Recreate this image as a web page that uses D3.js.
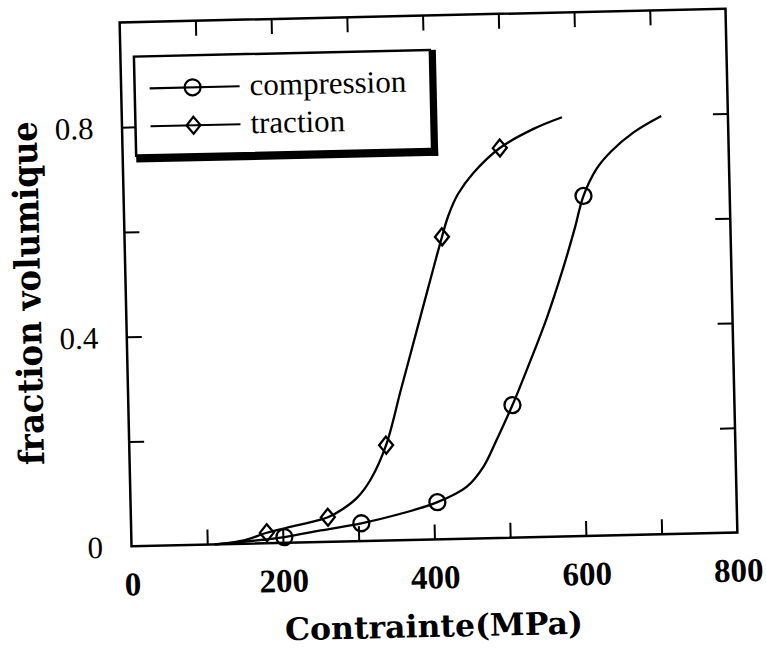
<!DOCTYPE html>
<html>
<head>
<meta charset="utf-8">
<script src="https://cdn.jsdelivr.net/npm/d3@7"></script>
<style>
  html, body { margin: 0; padding: 0; background: #fff; }
  svg { display: block; }
</style>
</head>
<body>
<svg id="chart" width="766" height="654"></svg>
<script>
// ---- data ----
const xTickValues = [100, 200, 300, 400, 500, 600, 700];
const xTickLabels = [0, 200, 400, 600, 800];
const yTickValues = [0.2, 0.4, 0.6, 0.8];
const yTickLabels = [0, 0.4, 0.8];

const compMarkX = [202, 304, 405, 507, 607];
const compMarkY = [0.011, 0.034, 0.071, 0.253, 0.649];
const tracMarkX = [179, 260, 339, 419, 498];
const tracMarkY = [0.020, 0.047, 0.182, 0.577, 0.744];

const compCurveX = [110, 150, 202, 250, 304, 355, 405, 444, 467, 485, 507, 530, 555, 578, 594, 607, 625, 645, 675, 712];
const compCurveY = [0, 0.004, 0.011, 0.022, 0.034, 0.050, 0.071, 0.099, 0.137, 0.187, 0.253, 0.330, 0.418, 0.512, 0.585, 0.649, 0.700, 0.733, 0.768, 0.798];
const tracCurveX = [110, 150, 179, 220, 260, 280, 300, 318, 339, 360, 380, 400, 419, 428, 441, 462, 498, 543, 581];
const tracCurveY = [0, 0.007, 0.020, 0.033, 0.047, 0.062, 0.084, 0.118, 0.182, 0.286, 0.385, 0.484, 0.577, 0.617, 0.657, 0.697, 0.744, 0.779, 0.800];

const seriesNames = ["compression", "traction"];
const xTitle = "Contrainte(MPa)";
const yTitle = "fraction  volumique";

// ---- drawing ----
const svg = d3.select("#chart");
svg.append("rect").attr("width", 766).attr("height", 654).attr("fill", "#fff");

const g = svg.append("g").attr("transform", "rotate(-1.3, 428.5, 277.5)");

const x = d3.scaleLinear().domain([0, 800]).range([125.5, 731.5]);
const y = d3.scaleLinear().domain([0, 1]).range([539.5, 15.5]);
const [x0, x1] = x.range();
const [y0, y1] = y.range();

const serif = "'Liberation Serif', 'Times New Roman', serif";
const titleFont = "'DejaVu Serif', serif";

// inward ticks on all four sides
const tickLen = 15;
function tickAxis(axis, transform) {
  const a = g.append("g").attr("transform", transform).call(axis);
  a.select(".domain").remove();
  a.selectAll(".tick line").attr("stroke", "#000").attr("stroke-width", 2);
  a.selectAll("text").remove();
  return a;
}
tickAxis(d3.axisBottom(x).tickValues(xTickValues).tickSize(-tickLen), `translate(0,${y0})`);
tickAxis(d3.axisTop(x).tickValues(xTickValues).tickSize(-tickLen), `translate(0,${y1})`);
tickAxis(d3.axisLeft(y).tickValues(yTickValues).tickSize(-tickLen), `translate(${x0},0)`);
tickAxis(d3.axisRight(y).tickValues(yTickValues).tickSize(-tickLen), `translate(${x1},0)`);

// frame
g.append("rect")
  .attr("x", x0).attr("y", y1)
  .attr("width", x1 - x0).attr("height", y0 - y1)
  .attr("fill", "none").attr("stroke", "#000").attr("stroke-width", 2.5);

// tick labels
const xl = g.append("g").attr("transform", `translate(0,${y0})`)
  .call(d3.axisBottom(x).tickValues(xTickLabels).tickSize(0).tickFormat(d3.format("d")));
xl.select(".domain").remove();
xl.selectAll("text")
  .attr("y", 49).attr("dy", null)
  .attr("font-family", serif).attr("font-size", 33).attr("font-weight", "bold").attr("fill", "#000");

const yl = g.append("g").attr("transform", `translate(${x0},0)`)
  .call(d3.axisLeft(y).tickValues(yTickLabels).tickSize(0).tickFormat(d => d === 0 ? "0" : d3.format(".1f")(d)));
yl.select(".domain").remove();
yl.selectAll("text")
  .attr("x", -28.5).attr("dy", "0.34em")
  .attr("font-family", serif).attr("font-size", 31).attr("fill", "#000");

// axis titles
g.append("text")
  .attr("x", 426).attr("y", 637)
  .attr("text-anchor", "middle")
  .attr("font-family", titleFont).attr("font-weight", "bold").attr("font-size", 31)
  .attr("textLength", 298).attr("lengthAdjust", "spacingAndGlyphs")
  .text(xTitle);

g.append("text")
  .attr("transform", "translate(40,284) rotate(-90)")
  .attr("text-anchor", "middle")
  .attr("font-family", titleFont).attr("font-weight", "bold").attr("font-size", 35)
  .attr("textLength", 344).attr("lengthAdjust", "spacingAndGlyphs")
  .text(yTitle);

// curves
const line = d3.line().x(d => x(d[0])).y(d => y(d[1])).curve(d3.curveCatmullRom.alpha(0.5));
const compCurve = compCurveX.map((v, i) => [v, compCurveY[i]]);
const tracCurve = tracCurveX.map((v, i) => [v, tracCurveY[i]]);
g.append("path").datum(compCurve).attr("d", line)
  .attr("fill", "none").attr("stroke", "#000").attr("stroke-width", 2.3);
g.append("path").datum(tracCurve).attr("d", line)
  .attr("fill", "none").attr("stroke", "#000").attr("stroke-width", 2.3);

// markers
const circleSym = d3.symbol().type(d3.symbolCircle).size(Math.PI * 8 * 8);
const diamondPath = "M0,-8.5L7,0L0,8.5L-7,0Z";

g.selectAll("path.comp").data(compMarkX.map((v, i) => [v, compMarkY[i]])).join("path")
  .attr("class", "comp")
  .attr("transform", d => `translate(${x(d[0])},${y(d[1])})`)
  .attr("d", circleSym())
  .attr("fill", "none").attr("stroke", "#000").attr("stroke-width", 2.3);

g.selectAll("path.trac").data(tracMarkX.map((v, i) => [v, tracMarkY[i]])).join("path")
  .attr("class", "trac")
  .attr("transform", d => `translate(${x(d[0])},${y(d[1])})`)
  .attr("d", diamondPath)
  .attr("fill", "none").attr("stroke", "#000").attr("stroke-width", 2.3);

// legend
const lg = g.append("g");
const lb = { x: 139, y: 50, w: 296, h: 99 };
lg.append("rect").attr("x", lb.x).attr("y", lb.y).attr("width", lb.w).attr("height", lb.h)
  .attr("fill", "#fff").attr("stroke", "#000").attr("stroke-width", 2.5);
// drop shadow on right and bottom
lg.append("rect").attr("x", lb.x + lb.w).attr("y", lb.y).attr("width", 6).attr("height", lb.h + 7).attr("fill", "#000");
lg.append("rect").attr("x", lb.x).attr("y", lb.y + lb.h).attr("width", lb.w + 6).attr("height", 7).attr("fill", "#000");

const legendRows = [
  { name: seriesNames[0], yy: 82, marker: circleSym() },
  { name: seriesNames[1], yy: 120, marker: diamondPath }
];
legendRows.forEach(r => {
  lg.append("line").attr("x1", 154).attr("x2", 244).attr("y1", r.yy).attr("y2", r.yy)
    .attr("stroke", "#000").attr("stroke-width", 2.2);
  lg.append("path").attr("d", r.marker).attr("transform", `translate(197,${r.yy})`)
    .attr("fill", "none").attr("stroke", "#000").attr("stroke-width", 2.2);
  lg.append("text").attr("x", 254).attr("y", r.yy).attr("dy", "0.3em")
    .attr("font-family", serif).attr("font-size", 31).attr("fill", "#000")
    .text(r.name);
});
</script>
</body>
</html>
